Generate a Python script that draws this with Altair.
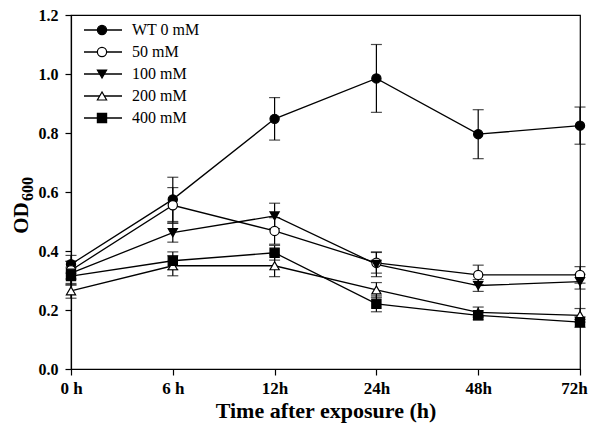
import altair as alt
import pandas as pd

times = ["0 h", "6 h", "12h", "24h", "48h", "72h"]
series = ["WT 0 mM", "50 mM", "100 mM", "200 mM", "400 mM"]

wt_mean = [0.355, 0.575, 0.848, 0.985, 0.796, 0.825]
wt_err = [0.030, 0.075, 0.072, 0.115, 0.083, 0.063]
m50_mean = [0.335, 0.555, 0.468, 0.360, 0.319, 0.319]
m50_err = [0.030, 0.060, 0.045, 0.035, 0.033, 0.028]
m100_mean = [0.325, 0.462, 0.519, 0.355, 0.283, 0.296]
m100_err = [0.040, 0.032, 0.043, 0.042, 0.020, 0.025]
m200_mean = [0.265, 0.350, 0.350, 0.268, 0.192, 0.182]
m200_err = [0.025, 0.034, 0.037, 0.025, 0.018, 0.023]
m400_mean = [0.315, 0.367, 0.394, 0.221, 0.182, 0.159]
m400_err = [0.030, 0.030, 0.025, 0.027, 0.015, 0.018]

means = [wt_mean, m50_mean, m100_mean, m200_mean, m400_mean]
errs = [wt_err, m50_err, m100_err, m200_err, m400_err]

shapes = ["circle", "circle", "triangle-down", "triangle-up", "square"]
fills = ["black", "white", "black", "white", "black"]

y_title_main = "OD"
y_title_sub = "600"

rows = []
for s, m, e in zip(series, means, errs):
    for t, v, d in zip(times, m, e):
        rows.append({"series": s, "time": t, "value": v, "lo": v - d, "hi": v + d})
df = pd.DataFrame(rows)
legend_df = pd.DataFrame({"series": series, "row": list(range(len(series)))})

FONT = "Liberation Serif"

x_enc = alt.X("time:N", sort=times, scale=alt.Scale(type="point", padding=0),
              axis=alt.Axis(title="Time after exposure (h)", labelAngle=0,
                            labelOffset={"condition": {"test": "datum.label == '72h'", "value": -6},
                                         "value": 0}))
y_scale = alt.Scale(domain=[0, 1.2], nice=False, zero=True)
shape_enc = alt.Shape("series:N", scale=alt.Scale(domain=series, range=shapes), legend=None)
fill_enc = alt.Fill("series:N", scale=alt.Scale(domain=series, range=fills), legend=None)

base = alt.Chart(df)

lines = base.mark_line(color="black", strokeWidth=1.3).encode(
    x=x_enc,
    y=alt.Y("value:Q", scale=y_scale,
            axis=alt.Axis(title=None, values=[0, 0.2, 0.4, 0.6, 0.8, 1.0, 1.2], format=".1f",
                          labelFontSize=16)),
    detail="series:N",
)
rules = base.mark_rule(color="black", strokeWidth=1.2).encode(
    x=alt.X("time:N", sort=times), y="lo:Q", y2="hi:Q"
)
cap_lo = base.mark_tick(color="black", size=11, thickness=1.2).encode(
    x=alt.X("time:N", sort=times), y="lo:Q"
)
cap_hi = base.mark_tick(color="black", size=11, thickness=1.2).encode(
    x=alt.X("time:N", sort=times), y="hi:Q"
)
points = base.mark_point(filled=False, stroke="black", strokeWidth=1.2, size=85, opacity=1).encode(
    x=alt.X("time:N", sort=times), y="value:Q", shape=shape_enc, fill=fill_enc
)

data_layer = alt.layer(lines, rules, cap_lo, cap_hi, points)

lbase = alt.Chart(legend_df)
ly = alt.Y("row:Q", scale=alt.Scale(domain=[0, 4], range=[15, 103]), axis=None)
leg_line = lbase.mark_rule(color="black", strokeWidth=1.3).encode(
    x=alt.value(13), x2=alt.value(51), y=ly
)
leg_pt = lbase.mark_point(filled=False, stroke="black", strokeWidth=1.2, size=85, opacity=1).encode(
    x=alt.value(31), y=ly, shape=shape_enc, fill=fill_enc
)
leg_txt = lbase.mark_text(align="left", baseline="middle", font=FONT, fontSize=16, color="black").encode(
    x=alt.value(61), y=ly, text="series:N"
)
legend_layer = alt.layer(leg_line, leg_pt, leg_txt)

title_df = pd.DataFrame({"main": [y_title_main], "sub": [y_title_sub]})
tbase = alt.Chart(title_df)
t_main = tbase.mark_text(angle=270, align="center", baseline="alphabetic", font=FONT,
                         fontSize=21, fontWeight="bold", color="black").encode(
    x=alt.value(-43), y=alt.value(203), text="main:N"
)
t_sub = tbase.mark_text(angle=270, align="left", baseline="alphabetic", font=FONT,
                        fontSize=16, fontWeight="bold", color="black").encode(
    x=alt.value(-38), y=alt.value(186), text="sub:N"
)
title_layer = alt.layer(t_main, t_sub)

chart = alt.layer(data_layer, legend_layer, title_layer).resolve_scale(y="independent").properties(
    width=509, height=354,
    autosize=alt.AutoSizeParams(type="none"),
    padding={"left": 63, "top": 7, "right": 10, "bottom": 55},
).configure_view(
    stroke="black", strokeWidth=1.2
).configure_axis(
    domainColor="black", domainWidth=1.2, tickColor="black", tickWidth=1.2, tickSize=6,
    grid=False, labelFont=FONT, labelFontSize=17, labelFontWeight="bold", labelColor="black",
    titleFont=FONT, titleFontSize=22, titleFontWeight="bold", titleColor="black",
).configure_axisX(
    titlePadding=4, labelPadding=5
).configure_axisY(
    labelPadding=7
)

chart.save("out.html", embed_options={"renderer": "svg", "actions": False})
